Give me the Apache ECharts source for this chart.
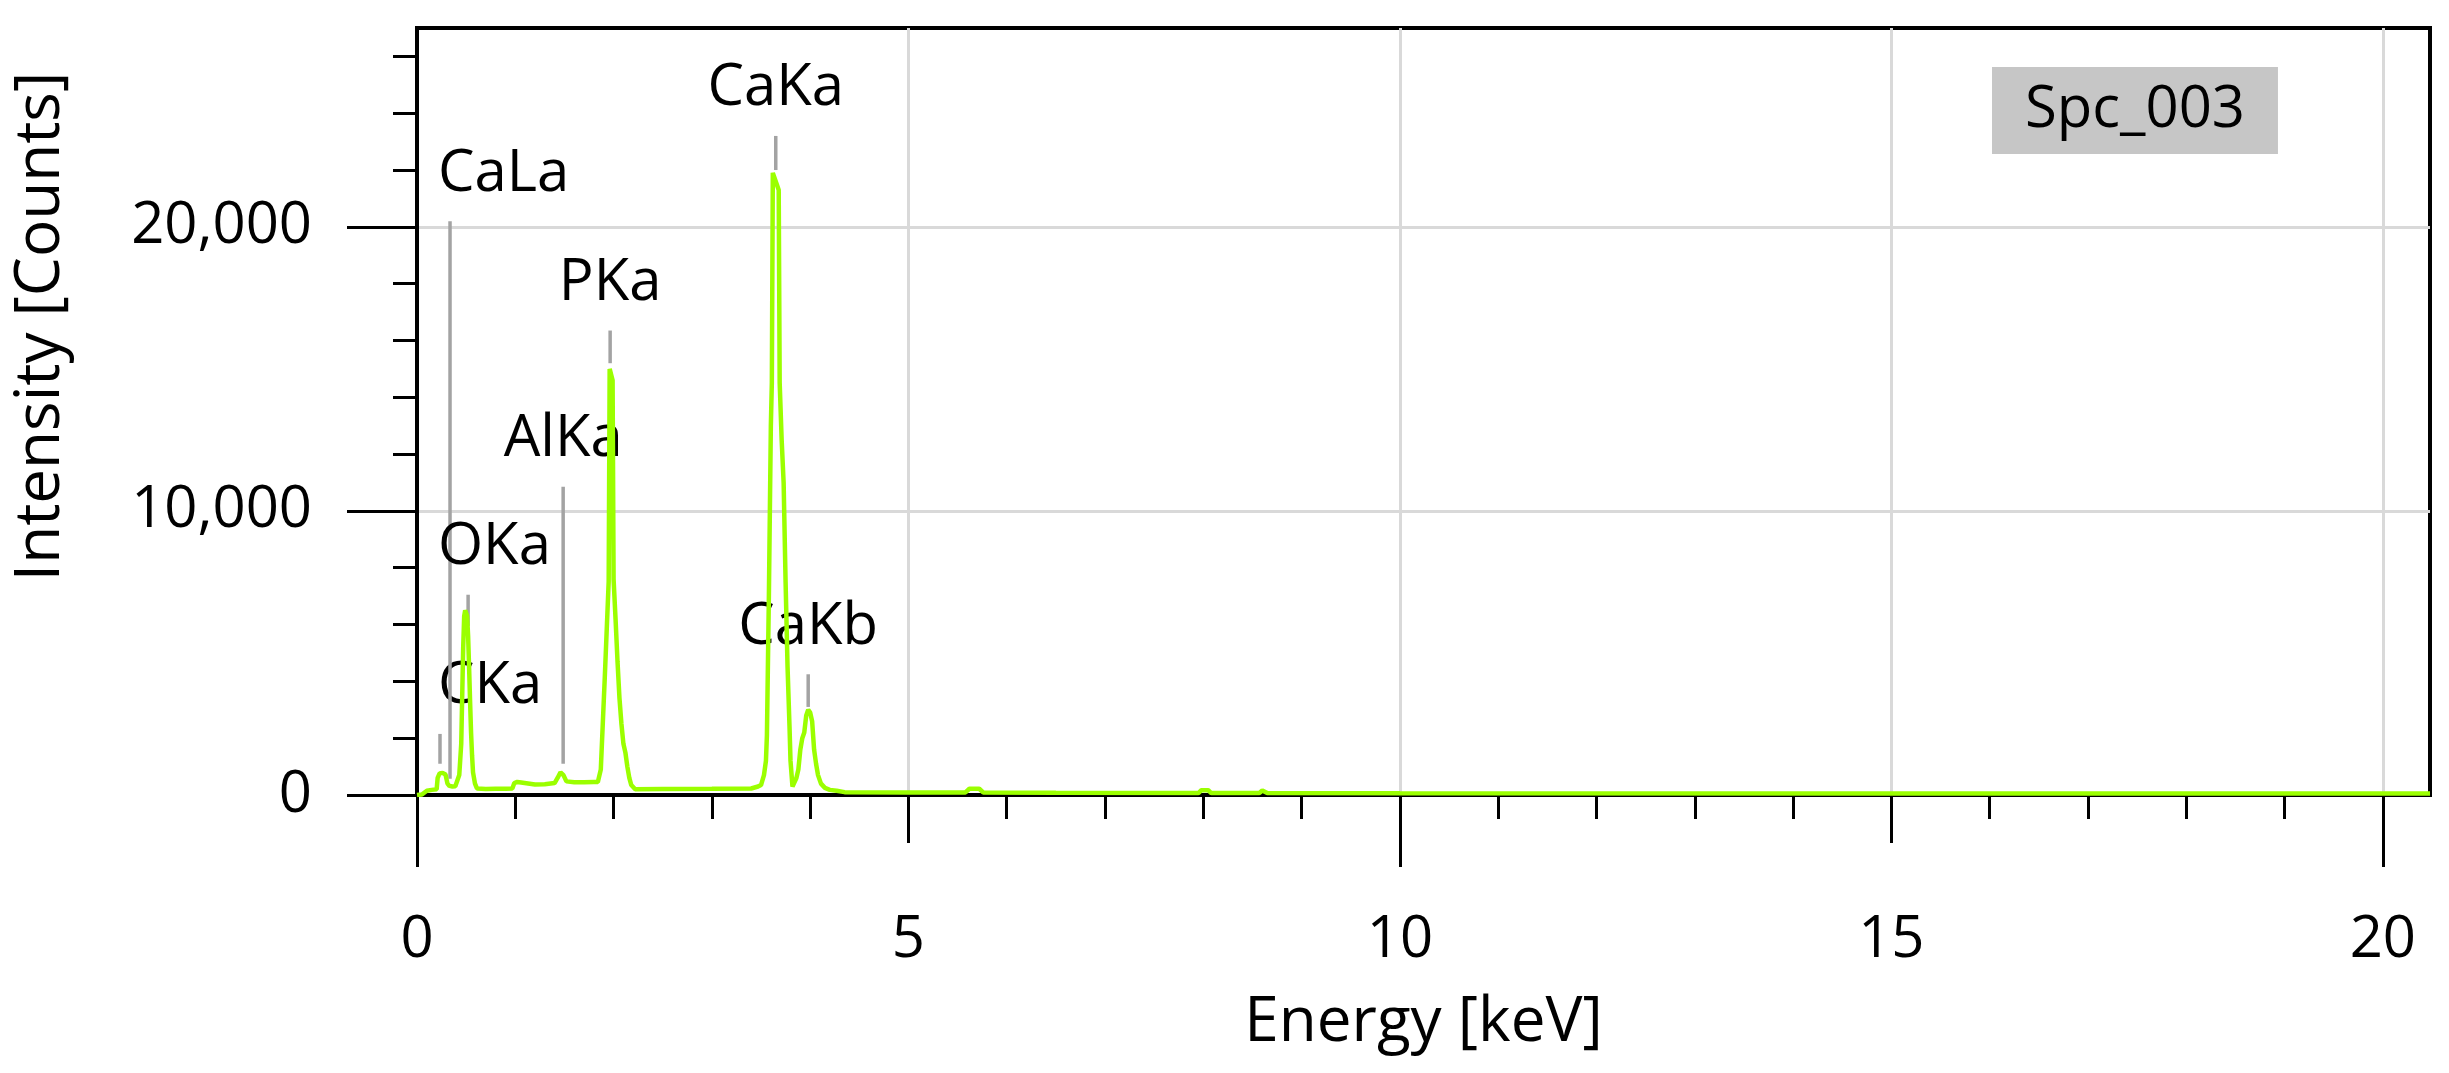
<!DOCTYPE html>
<html>
<head>
<meta charset="utf-8">
<title>Spc_003</title>
<script src="https://cdn.jsdelivr.net/npm/echarts@6/dist/echarts.min.js"></script>
<style>
  html, body { margin: 0; padding: 0; background: #fff; }
  #chart { width: 2449px; height: 1073px; }
</style>
</head>
<body>
<div id="chart"></div>
<script>
// EDS spectrum: energy (keV) and counts
var energy = [
  0.00, 0.05, 0.10, 0.15, 0.20, 0.21, 0.23, 0.26, 0.29, 0.31, 0.33, 0.36, 0.39,
  0.41, 0.43, 0.45, 0.46, 0.47, 0.48, 0.49, 0.50, 0.51, 0.52, 0.53, 0.54, 0.55,
  0.56, 0.57, 0.59, 0.61, 0.70, 0.80, 0.90, 0.97, 0.99, 1.02, 1.06, 1.08, 1.20,
  1.30, 1.40, 1.43, 1.46, 1.49, 1.52, 1.60, 1.70, 1.80, 1.84, 1.86, 1.87, 1.89,
  1.91, 1.93, 1.95, 1.96, 1.98, 1.99, 2.00, 2.02, 2.04, 2.06, 2.08, 2.10, 2.12,
  2.14, 2.16, 2.18, 2.22, 2.50, 3.00, 3.40, 3.47, 3.50, 3.53, 3.55, 3.56, 3.58,
  3.60, 3.61, 3.62, 3.64, 3.66, 3.68, 3.69, 3.71, 3.73, 3.75, 3.77, 3.79, 3.80,
  3.82, 3.84, 3.86, 3.88, 3.90, 3.92, 3.94, 3.96, 3.98, 4.00, 4.02, 4.04, 4.06,
  4.08, 4.11, 4.15, 4.20, 4.27, 4.35, 5.00, 5.58, 5.62, 5.72, 5.76, 6.50, 7.95,
  7.98, 8.05, 8.08, 8.57, 8.60, 8.65, 10.00, 15.00, 20.48
];
var counts = [
  0, 20, 150, 180, 200, 600, 760, 780, 720, 400, 320, 300, 310,
  380, 700, 1800, 3500, 5200, 6300, 6500, 6500, 6300, 5600, 4500, 3300, 2200,
  1400, 800, 400, 230, 210, 220, 220, 230, 420, 460, 440, 370, 370,
  380, 420, 600, 800, 700, 480, 450, 450, 460, 460, 500, 900, 2500,
  4100, 5800, 7500, 15000, 15000, 14600, 7600, 6200, 4700, 3400, 2500, 1800, 1500,
  1000, 600, 350, 200, 210, 220, 230, 300, 350, 700, 1200, 2100, 7000,
  13000, 14500, 21900, 21900, 21500, 21300, 14500, 12500, 11000, 7500, 4500, 2400, 1200,
  300, 280, 600, 900, 1600, 2000, 2200, 2800, 3000, 2900, 2600, 1600, 1100,
  700, 400, 250, 180, 150, 100, 90, 90, 220, 220, 90, 80, 70,
  170, 170, 70, 70, 160, 70, 60, 50, 50
];

// element marker lines: energy, top and bottom of the grey line (counts)
var lineNames = ["CKa", "CaLa", "OKa", "AlKa", "PKa", "CaKa", "CaKb"];
var lineEnergy = [0.234, 0.336, 0.52, 1.487, 1.965, 3.65, 3.98];
var lineTop = [2150, 20200, 7050, 10850, 16350, 23200, 4250];
var lineBottom = [1100, 570, 5950, 1100, 15200, 22000, 3100];

// axis ticks and labels
var xMinorTicks = [1, 2, 3, 4, 6, 7, 8, 9, 11, 12, 13, 14, 16, 17, 18, 19];
var xMidTicks = [5, 15];
var xMajorTicks = [0, 10, 20];
var xLabels = [0, 5, 10, 15, 20];
var yMinorTicks = [0, 2000, 4000, 6000, 8000, 10000, 12000, 14000, 16000,
  18000, 20000, 22000, 24000, 26000];
var yLabels = [0, 10000, 20000];

var FONT = "'Open Sans', 'Noto Sans', sans-serif";
var measureCtx = document.createElement("canvas").getContext("2d");
measureCtx.font = "58px " + FONT;

var spectrum = energy.map(function (e, i) { return [e, counts[i]]; });
var markers = lineEnergy.map(function (e, i) { return [e, lineTop[i], lineBottom[i]]; });

function renderMarker(params, api) {
  var top = api.coord([api.value(0), api.value(1)]);
  var bottom = api.coord([api.value(0), api.value(2)]);
  var name = lineNames[params.dataIndex];
  var w = measureCtx.measureText(name).width;
  var minLeft = params.coordSys.x + 21;
  var tx = Math.max(top[0], minLeft + w / 2);
  return {
    type: "group",
    children: [
      {
        type: "line",
        shape: { x1: top[0], y1: top[1], x2: bottom[0], y2: bottom[1] },
        style: { stroke: "#a3a3a3", lineWidth: 3.5 }
      },
      {
        type: "text",
        x: tx,
        y: top[1] - 47,
        style: {
          text: name,
          fill: "#000",
          font: "58px " + FONT,
          align: "center",
          verticalAlign: "middle"
        }
      }
    ]
  };
}

var xBase = {
  type: "value",
  min: 0,
  max: 20.48,
  position: "bottom",
  axisLine: { show: false },
  axisLabel: { show: false },
  splitLine: { show: false }
};
var yBase = {
  type: "value",
  min: 0,
  max: 27000,
  position: "left",
  axisLine: { show: false },
  axisLabel: { show: false },
  splitLine: { show: false }
};

var chart = echarts.init(document.getElementById("chart"));
var option = {
  animation: false,
  backgroundColor: "#fff",
  textStyle: { fontFamily: FONT },
  grid: {
    left: 417,
    top: 28,
    width: 2013,
    height: 767,
    show: true,
    borderColor: "#000",
    borderWidth: 4,
    backgroundColor: "transparent"
  },
  legend: {
    data: ["Spc_003"],
    left: 1992,
    top: 67,
    padding: [14, 33, 15, 28],
    backgroundColor: "#c6c6c6",
    itemWidth: 0,
    itemHeight: 0,
    icon: "rect",
    selectedMode: false,
    itemStyle: { opacity: 0 },
    lineStyle: { opacity: 0 },
    textStyle: { fontSize: 58, lineHeight: 58, color: "#000", fontFamily: FONT }
  },
  xAxis: [
    Object.assign({}, xBase, {
      interval: 1,
      axisLine: { show: true, lineStyle: { color: "#000", width: 4 } },
      axisTick: { show: true, length: 24, customValues: xMinorTicks, lineStyle: { color: "#000", width: 3 } }
    }),
    Object.assign({}, xBase, {
      interval: 5,
      axisTick: { show: true, length: 48, customValues: xMidTicks, lineStyle: { color: "#000", width: 3 } },
      splitLine: { show: true, lineStyle: { color: "#d9d9d9", width: 3 } }
    }),
    Object.assign({}, xBase, {
      interval: 5,
      name: "Energy [keV]",
      nameLocation: "middle",
      nameGap: 197,
      nameTextStyle: { fontSize: 62, color: "#000", fontFamily: FONT },
      axisTick: { show: true, length: 72, customValues: xMajorTicks, lineStyle: { color: "#000", width: 3 } },
      axisLabel: {
        show: true,
        customValues: xLabels,
        margin: 116,
        fontSize: 58,
        color: "#000",
        fontFamily: FONT
      },
      splitLine: { show: true, lineStyle: { color: "#d9d9d9", width: 3 } }
    })
  ],
  yAxis: [
    Object.assign({}, yBase, {
      interval: 2000,
      axisLine: { show: true, lineStyle: { color: "#000", width: 4 } },
      axisTick: { show: true, length: 24, customValues: yMinorTicks, lineStyle: { color: "#000", width: 3 } }
    }),
    Object.assign({}, yBase, {
      interval: 10000,
      name: "Intensity [Counts]",
      nameLocation: "middle",
      nameRotate: 90,
      nameGap: 345,
      nameTextStyle: { fontSize: 62, color: "#000", fontFamily: FONT, padding: [0, 0, 0, 170] },
      axisTick: { show: true, length: 70, customValues: yLabels, lineStyle: { color: "#000", width: 3 } },
      axisLabel: {
        show: true,
        customValues: yLabels,
        margin: 105,
        fontSize: 58,
        color: "#000",
        fontFamily: FONT,
        formatter: function (v) { return v.toLocaleString("en-US"); }
      },
      splitLine: { show: true, lineStyle: { color: "#d9d9d9", width: 3 } }
    })
  ],
  series: [
    {
      name: "Spc_003",
      type: "line",
      xAxisIndex: 0,
      yAxisIndex: 0,
      data: spectrum,
      showSymbol: false,
      symbol: "none",
      lineStyle: { color: "#9bff00", width: 4.5 },
      itemStyle: { color: "#9bff00" },
      z: 3
    },
    {
      name: "lines",
      type: "custom",
      xAxisIndex: 0,
      yAxisIndex: 0,
      data: markers,
      renderItem: renderMarker,
      z: 2,
      silent: true
    }
  ]
};
chart.setOption(option);
</script>
</body>
</html>
